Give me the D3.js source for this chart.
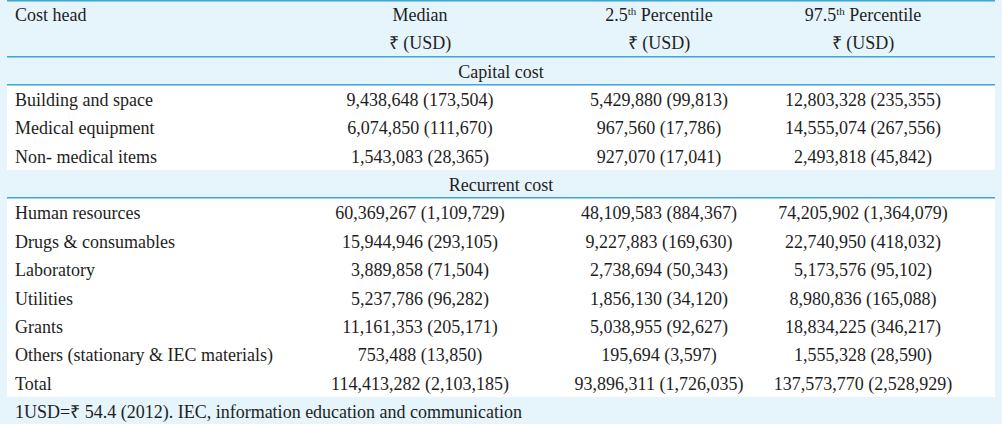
<!DOCTYPE html>
<html>
<head>
<meta charset="utf-8">
<script src="https://cdn.jsdelivr.net/npm/d3@7"></script>
<style>
  html, body { margin: 0; padding: 0; background: #e6f4fb; }
  svg { display: block; }
  text { font-family: "Liberation Serif", "Times New Roman", serif; fill: #1e1e1e; }
</style>
</head>
<body>
<div id="chart"></div>
<script>
// ---- data ----
const columnHeads = ["Cost head", "Median", "2.5", "97.5"];
const capitalHeads = ["Building and space", "Medical equipment", "Non- medical items"];
const capitalMedianINR = [9438648, 6074850, 1543083];
const capitalMedianUSD = [173504, 111670, 28365];
const capitalLowINR = [5429880, 967560, 927070];
const capitalLowUSD = [99813, 17786, 17041];
const capitalHighINR = [12803328, 14555074, 2493818];
const capitalHighUSD = [235355, 267556, 45842];

const recurrentHeads = ["Human resources", "Drugs & consumables", "Laboratory", "Utilities", "Grants", "Others (stationary & IEC materials)", "Total"];
const recurrentMedianINR = [60369267, 15944946, 3889858, 5237786, 11161353, 753488, 114413282];
const recurrentMedianUSD = [1109729, 293105, 71504, 96282, 205171, 13850, 2103185];
const recurrentLowINR = [48109583, 9227883, 2738694, 1856130, 5038955, 195694, 93896311];
const recurrentLowUSD = [884367, 169630, 50343, 34120, 92627, 3597, 1726035];
const recurrentHighINR = [74205902, 22740950, 5173576, 8980836, 18834225, 1555328, 137573770];
const recurrentHighUSD = [1364079, 418032, 95102, 165088, 346217, 28590, 2528929];

const sectionTitles = ["Capital cost", "Recurrent cost"];
const footnote = "1USD=\u20B9 54.4 (2012). IEC, information education and communication";

// ---- layout ----
const W = 1002, H = 424;
const left = 7, right = 995;
const fmt = d3.format(",");
const cell = (inr, usd) => fmt(inr) + " (" + fmt(usd) + ")";

const svg = d3.select("#chart").append("svg").attr("width", W).attr("height", H);

// line index -> baseline (scale)
const nLines = 15;
const y = d3.scaleLinear().domain([0, nLines - 1]).range([21, 21 + 28.35 * (nLines - 1)]);
const rowTop = i => y(i) - 21;

// column centers
const x = d3.scaleOrdinal().domain(["Median", "2.5", "97.5"]).range([420, 659, 863]);
const labelX = 15;

// backgrounds: white body blocks
const whiteBlocks = [[3, 6], [7, 14]];
svg.selectAll("rect.body").data(whiteBlocks).join("rect")
  .attr("class", "body")
  .attr("x", left).attr("width", right - left)
  .attr("y", d => rowTop(d[0]))
  .attr("height", d => rowTop(d[1]) - rowTop(d[0]))
  .attr("fill", "#ffffff");

// rules
const ruleLines = [0, 2, 3, 7];
const ruleY = d => d === 0 ? 0.75 : Math.round(rowTop(d)) - 0.25;
svg.selectAll("line.rule").data(ruleLines).join("line")
  .attr("class", "rule")
  .attr("x1", left).attr("x2", right)
  .attr("y1", ruleY).attr("y2", ruleY)
  .attr("stroke", "#3ba7d3").attr("stroke-width", 1.5);

const fs = 18;
const T = (sel) => sel.attr("font-size", fs).attr("font-family", "'Liberation Serif', 'Times New Roman', serif");

// header row 1
svg.append("text").call(T).attr("x", labelX).attr("y", y(0)).text(columnHeads[0]);
svg.append("text").call(T).attr("x", x("Median")).attr("y", y(0)).attr("text-anchor", "middle").text("Median");
["2.5", "97.5"].forEach(p => {
  const t = svg.append("text").call(T).attr("x", x(p)).attr("y", y(0)).attr("text-anchor", "middle");
  t.append("tspan").text(p);
  t.append("tspan").attr("font-size", 11).attr("dy", -6).text("th");
  t.append("tspan").attr("dy", 6).text(" Percentile");
});
// header row 2
["Median", "2.5", "97.5"].forEach(p => {
  svg.append("text").call(T).attr("x", x(p)).attr("y", y(1)).attr("text-anchor", "middle").text("\u20B9 (USD)");
});

// section titles
svg.selectAll("text.section").data(sectionTitles).join("text")
  .attr("class", "section").call(T)
  .attr("x", (left + right) / 2).attr("y", (d, i) => y(i === 0 ? 2 : 6))
  .attr("text-anchor", "middle").text(d => d);

// rows
function drawRows(heads, mI, mU, lI, lU, hI, hU, start) {
  heads.forEach((h, i) => {
    const yy = y(start + i);
    svg.append("text").call(T).attr("x", labelX).attr("y", yy).text(h);
    svg.append("text").call(T).attr("x", x("Median")).attr("y", yy).attr("text-anchor", "middle").text(cell(mI[i], mU[i]));
    svg.append("text").call(T).attr("x", x("2.5")).attr("y", yy).attr("text-anchor", "middle").text(cell(lI[i], lU[i]));
    svg.append("text").call(T).attr("x", x("97.5")).attr("y", yy).attr("text-anchor", "middle").text(cell(hI[i], hU[i]));
  });
}
drawRows(capitalHeads, capitalMedianINR, capitalMedianUSD, capitalLowINR, capitalLowUSD, capitalHighINR, capitalHighUSD, 3);
drawRows(recurrentHeads, recurrentMedianINR, recurrentMedianUSD, recurrentLowINR, recurrentLowUSD, recurrentHighINR, recurrentHighUSD, 7);

// footnote
svg.append("text").call(T).attr("x", labelX).attr("y", y(14)).text(footnote);
</script>
</body>
</html>
